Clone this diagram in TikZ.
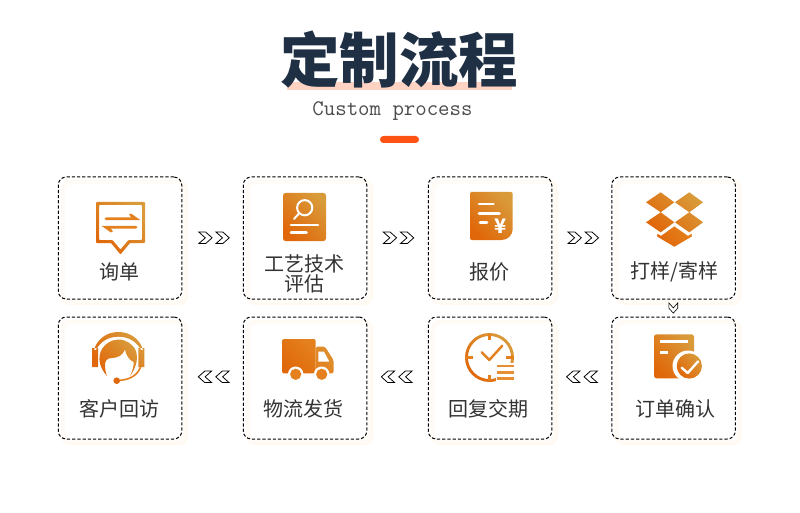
\documentclass[tikz,border=0pt]{standalone}
\usepackage{fontspec}
\setmainfont{Liberation Sans}
\setmonofont{Latin Modern Mono}
\newfontfamily\cjk{Noto Sans CJK SC}
\newfontface\chevf[FakeBold=3,FakeStretch=1.22]{Poppins Bold}
\usetikzlibrary{calc}
\definecolor{oA}{HTML}{E0680A}
\definecolor{oB}{HTML}{D99A3A}
\definecolor{oM}{HTML}{E4811E}
\definecolor{navy}{HTML}{1F3044}
\definecolor{pinkbar}{HTML}{FFD3C4}
\definecolor{pillc}{HTML}{FF5215}
\definecolor{labelc}{HTML}{333333}
\definecolor{glowA}{HTML}{FFF9F1}
\definecolor{glowB}{HTML}{FFFCF8}
\newcommand{\chevtext}[1]{\chevf\special{pdf:bc [1] [0]}#1\special{pdf:ec}}
\tikzset{
  x=1pt,y=-1pt,
  ograd/.style={left color=oA,right color=oB,shading angle=135,draw=none},
  card/.style={draw=black,line width=1pt,dash pattern=on 3.2pt off 2pt,rounded corners=8pt,minimum width=123.5pt,minimum height=122pt,inner sep=0pt},
  lab/.style={font=\cjk\fontsize{20}{19.5}\selectfont,text=labelc,inner sep=0pt,align=center},
  chev/.style={font=\fontsize{26}{26}\selectfont,inner sep=0pt},
  wl/.style={draw=white,line width=2.6pt,line cap=round},
  ol/.style={draw=oM,line cap=round},
}
\newcommand{\glow}[2]{%
  \fill[rounded corners=9pt,fill=glowA] (#1-59,#2-58) rectangle (#1+68,#2+67);
  \fill[rounded corners=8pt,fill=glowB] (#1-58,#2-57) rectangle (#1+66,#2+65);
  \fill[rounded corners=7pt,fill=white] (#1-55,#2-54) rectangle (#1+63,#2+62);
}
\begin{document}
\begin{tikzpicture}
\useasboundingbox[fill=white] (0,0) rectangle (800,513);
% header
\fill[pinkbar] (287,82) rectangle (512,90);
\node[font=\cjk\bfseries\fontsize{59.5}{60}\selectfont,text=navy,inner sep=0pt] (title) at (399,60) {定制流程};
\node[font=\ttfamily\fontsize{22.2}{22}\selectfont,text=black!70,inner sep=0pt] (sub) at (392.5,111) {Custom process};
\fill[pillc,rounded corners=3.4pt] (380,136) rectangle (419,143);
% card backgrounds
\glow{120}{238}\glow{305}{238}\glow{490}{238}\glow{673.5}{238}
\glow{120}{378}\glow{305}{378}\glow{490}{378}\glow{673.5}{378}
% cards
\node[card] (c1) at (120,238) {};
\node[card] (c2) at (305,238) {};
\node[card] (c3) at (490,238) {};
\node[card] (c4) at (673.5,238) {};
\node[card] (c5) at (673.5,378) {};
\node[card] (c6) at (490,378) {};
\node[card] (c7) at (305,378) {};
\node[card] (c8) at (120,378) {};
% chevrons
\node[chev] (a1) at ($(c1.east)!.5!(c2.west)+(1.5,1.5)$) {\chevtext{>>}};
\node[chev] (a2) at ($(c2.east)!.5!(c3.west)+(1,1.5)$) {\chevtext{>>}};
\node[chev] (a3) at ($(c3.east)!.5!(c4.west)+(1.5,1.5)$) {\chevtext{>>}};
\node[chev,rotate=-90,font=\fontsize{20}{20}\selectfont] (a4) at ($(c4.south)!.5!(c5.north)+(-1.5,0)$) {\chevtext{>}};
\node[chev] (a5) at ($(c5.west)!.5!(c6.east)+(0.5,0.5)$) {\chevtext{<<}};
\node[chev] (a6) at ($(c6.west)!.5!(c7.east)+(-0.5,0.5)$) {\chevtext{<<}};
\node[chev] (a7) at ($(c7.west)!.5!(c8.east)+(1.5,0.5)$) {\chevtext{<<}};
% labels
\node[lab] (l1) at (119.5,272) {询单};
\node[lab] (l2) at (304,274) {工艺技术\\[0pt]评估};
\node[lab] (l3) at (489,272) {报价};
\node[lab] (l4) at (674.5,272) {打样/寄样};
\node[lab] (l5) at (675,409) {订单确认};
\node[lab] (l6) at (488.5,409) {回复交期};
\node[lab] (l7) at (303.5,409) {物流发货};
\node[lab] (l8) at (119,409) {客户回访};
% icon 1: speech bubble
\path[ograd,even odd rule,rounded corners=0.8pt]
  (96,202)--(145,202)--(145,243)--(130,243)--(120.5,254.5)--(111,243)--(96,243)--cycle
  (99,205)--(142,205)--(142,240)--(128.5,240)--(120.5,249.5)--(112.5,240)--(99,240)--cycle;
\draw[ol,line width=2.8pt] (106,218.7)--(136,218.7)--(130.5,214.8);
\draw[ol,line width=2.8pt] (136,227.3)--(106,227.3)--(111.5,231.2);
% icon 2: report with lens
\path[ograd,rounded corners=2.5pt] (283,193) rectangle (326,241);
\draw[white,line width=2pt] (304.7,207.7) circle[radius=7.6pt];
\draw[white,line width=2pt,line cap=round] (299,213.5)--(294,219);
\draw[wl] (291,225)--(318,225);
\draw[wl] (291,232.7)--(306.5,232.7);
% icon 3: quote sheet
\path[ograd] (472,192) [rounded corners=2pt]-- (512.7,192) [rounded corners=11pt]-- (512.7,240) [rounded corners=2pt]-- (470,240) -- (470,192) -- cycle;
\draw[wl] (479,204)--(493.5,204);
\draw[wl] (479,213.3)--(499.5,213.3);
\draw[wl] (480,222.7)--(487,222.7);
\node[font=\cjk\bfseries\fontsize{20}{20}\selectfont,text=white,inner sep=0pt] (yen) at (500.7,226.2) {¥};
% icon 4: open box
\path[ograd]
  (646,202.3)--(660.7,192.3)--(674.3,202.3)--(660.7,212.3)--cycle
  (675,202.3)--(689.3,192.3)--(703,202.3)--(689.3,212.3)--cycle
  (646,222.3)--(660.7,212.3)--(674.3,222.3)--(660.7,232.3)--cycle
  (675,222.3)--(689.3,212.3)--(703,222.3)--(689.3,232.3)--cycle;
\path[left color=oA,right color=oM,shading angle=135,draw=white,line width=1.2pt,line join=miter]
  (674.3,225.5)--(688,235)--(692.5,232.5)--(692.5,237)--(674.3,247.6)--(656.5,237)--(656.5,232.5)--(661,235)--cycle;
% icon 5: order confirm
\path[ograd,rounded corners=2.5pt] (654,334.3) rectangle (694,378.3);
\draw[white,line width=2.6pt] (660,341.7)--(688.3,341.7);
\draw[white,line width=2.6pt] (660,352.7)--(668.3,352.7);
\fill[white] (688,366) circle[radius=15.5pt];
\path[ograd] (689.3,366) circle[radius=12.6pt];
\draw[white,line width=2.4pt,line cap=round,line join=round] (681.7,367.7)--(687.7,373)--(698,361.5);
% icon 6: clock
\path[ograd,even odd rule] (489.5,357.5) circle[radius=24.5pt] (489.5,357.5) circle[radius=21.6pt];
\fill[white] (495.5,363) rectangle (516,385);
\draw[oM,line width=2.4pt] (489.5,334)--(489.5,340);
\draw[oM,line width=2.4pt] (465,357.5)--(473,357.5);
\draw[oM,line width=2.4pt] (489.5,375)--(489.5,381);
\draw[oM,line width=2.4pt] (506,357.5)--(514,357.5);
\draw[oM,line width=2.4pt,line cap=round,line join=round] (481.7,352.3)--(489.3,360)--(502.3,345.7);
\draw[oM!90!white,line width=2.4pt] (497.3,365.7)--(514,365.7) (497.3,372.3)--(514,372.3) (497.3,378.3)--(514,378.3);
% icon 7: truck
\path[left color=oA,right color=oM,shading angle=135,rounded corners=1.5pt] (282,339) rectangle (315.7,373.3);
\path[left color=oM,right color=oB!60!oM,shading angle=135,rounded corners=1.5pt] (315.7,346.7)--(325,346.7)--(333.5,360)--(333.5,373.3)--(315.7,373.3)--cycle;
\fill[white] (318.3,351.7)--(324,351.7)--(329.3,361.7)--(318.3,361.7)--cycle;
\fill[white] (295.7,374.3) circle[radius=7.8pt] (321.7,374.3) circle[radius=7.8pt];
\fill[oM] (295.7,374.3) circle[radius=5.6pt] (321.7,374.3) circle[radius=5.6pt];
% icon 8: headset
\path[ograd]
  (94,350) .. controls (97,339) and (107,332) .. (118.3,332) .. controls (130,332) and (140,339) .. (143,350)
  -- (141,350) .. controls (137,342) and (129,336.7) .. (118.3,336.7) .. controls (108,336.7) and (100,342) .. (96,350) -- cycle
  (92,348) rectangle (98,367) (138.3,348) rectangle (144.3,367);
\path[ograd]
  (107,376) .. controls (99,367) and (98,358) .. (101,351) .. controls (104,344) and (112,339.5) .. (118.3,339.5)
  .. controls (126,339.5) and (133,344) .. (136,351) .. controls (138,358) and (137,367) .. (130,376)
  .. controls (133,370) and (134,365) .. (133.5,362) .. controls (129,360) and (126,355) .. (125,349.5)
  .. controls (123,355) and (118,358) .. (112,358) .. controls (107,358) and (104.5,361) .. (105,366)
  .. controls (105,369) and (105.5,372) .. (107,376) -- cycle;
\draw[oM,line width=1.6pt] (141,366) .. controls (138,375) and (130,380) .. (118,380.5);
\fill[oA] (116.7,380.7) circle[radius=3.3pt];
\end{tikzpicture}
\end{document}
